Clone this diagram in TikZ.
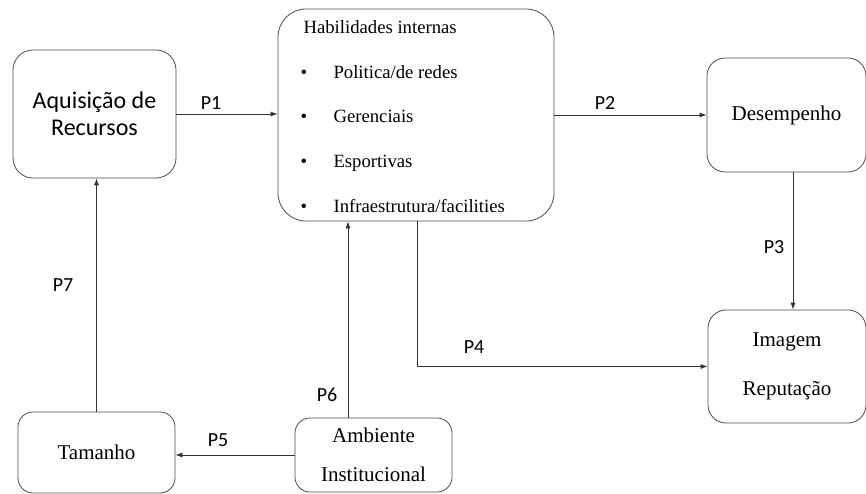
\documentclass[tikz,border=0pt]{standalone}
\usepackage{fontspec}
\setmainfont{Liberation Serif}
\newfontfamily\calibri{Carlito}
\usetikzlibrary{arrows.meta}

\begin{document}
\begin{tikzpicture}[
			x=1pt, y=-1pt,
			box/.style={draw=black!70, line width=0.8pt, rounded corners=18pt, align=center,
					font=\fontsize{21}{25}\selectfont},
			arr/.style={draw=black!80, line width=0.8pt, -{Latex[length=7pt,width=5pt]}},
			plabel/.style={font=\calibri\fontsize{20}{24}\selectfont},
			item/.style={anchor=base west, font=\fontsize{18.7}{22}\selectfont}
		]
		\useasboundingbox (0,0) rectangle (866,494);
		% boxes
		\node[box, minimum width=163pt, minimum height=128pt, rounded corners=20pt,
			font=\calibri\fontsize{24}{27}\selectfont] (acq) at (94.5,114) {Aquisição de\\Recursos};
		\node[box, minimum width=276pt, minimum height=212pt, rounded corners=28pt] (hab) at (416,115) {};
		\node[box, minimum width=159pt, minimum height=114pt] (des) at (786.5,115) {Desempenho};
		\node[box, minimum width=158pt, minimum height=113pt,
			font=\fontsize{21}{49}\selectfont] (img) at (787,366.5) {Imagem\\Reputação};
		\node[box, minimum width=157pt, minimum height=81pt, rounded corners=15pt] (tam) at (96.5,452.5) {Tamanho};
		\node[box, minimum width=157pt, minimum height=74pt, rounded corners=15pt,
			font=\fontsize{21}{39}\selectfont] (amb) at (373.5,455) {Ambiente\\Institucional};
		% internal skills
		\node[item] (habtitle) at (300,34) {Habilidades internas};
		\node[item] (bul1) at (297,78.5) {•};
		\node[item] (pol) at (330,78.5) {Politica/de redes};
		\node[item] (bul2) at (297,123) {•};
		\node[item] (ger) at (330,123) {Gerenciais};
		\node[item] (bul3) at (297,167.5) {•};
		\node[item] (esp) at (330,167.5) {Esportivas};
		\node[item] (bul4) at (297,212) {•};
		\node[item] (inf) at (330,212) {Infraestrutura/facilities};
		% connectors
		\draw[arr] (acq.east) -- (acq.east -| hab.west);
		\draw[arr] (hab.east) -- (hab.east -| des.west);
		\draw[arr] ([xshift=6.5pt]des.south) -- ([xshift=6.5pt]des.south |- img.north);
		\draw[arr] ([xshift=1pt]hab.south) |- (img.west);
		\draw[arr] (amb.west) -- (amb.west -| tam.east);
		\draw[arr] ([xshift=-25.5pt]amb.north) -- ([xshift=-25.5pt]amb.north |- hab.south);
		\draw[arr] (tam.north) -- (tam.north |- acq.south);
		% labels
		\node[plabel] (p1) at (211,103) {P1};
		\node[plabel] (p2) at (605,103) {P2};
		\node[plabel] (p3) at (774,247) {P3};
		\node[plabel] (p4) at (474,347) {P4};
		\node[plabel] (p5) at (218,440) {P5};
		\node[plabel] (p6) at (327,395) {P6};
		\node[plabel] (p7) at (63,285) {P7};
	\end{tikzpicture}
\end{document}
